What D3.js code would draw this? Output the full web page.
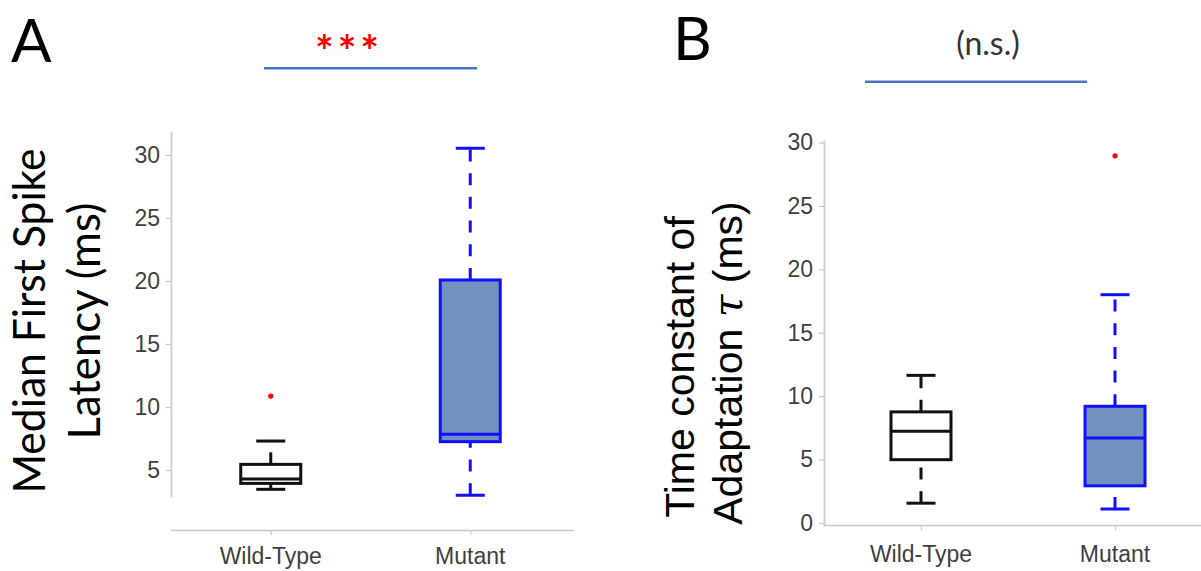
<!DOCTYPE html>
<html>
<head>
<meta charset="utf-8">
<script src="https://cdn.jsdelivr.net/npm/d3@7"></script>
<style>
  html, body { margin: 0; padding: 0; background: #fff; }
  svg { display: block; }
</style>
</head>
<body>
<svg id="chart" width="1201" height="571"></svg>
<script>
// ---------------- DATA ----------------
const categories = ["Wild-Type", "Mutant"];

// Panel A: Median first spike latency (ms)
const latencyLower   = [3.47, 3.0];
const latencyQ1      = [3.94, 7.25];
const latencyMedian  = [4.29, 7.83];
const latencyQ3      = [5.45, 20.08];
const latencyUpper   = [7.3, 30.53];
const latencyOutliers = [[10.87], []];
const latencyTicks   = [5, 10, 15, 20, 25, 30];

// Panel B: Time constant of adaptation tau (ms)
const tauLower   = [1.56, 1.1];
const tauQ1      = [4.99, 2.93];
const tauMedian  = [7.23, 6.7];
const tauQ3      = [8.76, 9.2];
const tauUpper   = [11.64, 18.0];
const tauOutliers = [[], [28.95]];
const tauTicks   = [0, 5, 10, 15, 20, 25, 30];

// ---------------- STYLE ----------------
const boxStroke = ["#111111", "#1010ff"];
const boxFill   = ["#ffffff", "#7191be"];
const svg = d3.select("#chart");
svg.append("rect").attr("width", 1201).attr("height", 571).attr("fill", "#fff");

function drawPanel(cfg) {
  const g = svg.append("g");
  const y = d3.scaleLinear().domain(cfg.yDomain).range(cfg.yRange);
  const x = d3.scalePoint().domain(categories).range(cfg.xRange).padding(0.5);

  // y axis
  const ya = g.append("g").attr("transform", `translate(${cfg.xRange[0]},0)`)
    .call(d3.axisLeft(y).tickValues(cfg.ticks).tickSize(5).tickPadding(6).tickSizeOuter(0));
  ya.select(".domain").attr("stroke", "#d2d2d2").attr("stroke-width", 2);
  ya.selectAll(".tick line").attr("stroke", "#c8c8c8").attr("stroke-width", 1.2);
  ya.selectAll(".tick text").attr("fill", "#3f3f3f")
    .style("font-family", "'Liberation Sans', Arial, sans-serif").style("font-size", "23px");

  // x axis
  const xa = g.append("g").attr("transform", `translate(0,${cfg.xAxisY})`)
    .call(d3.axisBottom(x).tickSize(5).tickSizeOuter(0).tickFormat(""));
  xa.select(".domain").attr("stroke", "#c8c8c8").attr("stroke-width", 1.5)
    .attr("d", `M${cfg.xRange[0]},0.5H${cfg.xLineEnd}`);
  xa.selectAll(".tick line").attr("stroke", "#c8c8c8").attr("stroke-width", 1.2);
  g.selectAll(".catlab").data(categories).join("text")
    .attr("x", d => x(d)).attr("y", cfg.catY)
    .attr("text-anchor", "middle").attr("fill", "#3f3f3f")
    .style("font-family", "'Liberation Sans', Arial, sans-serif").style("font-size", "23px")
    .text(d => d);

  const bw = 60, cw = 29;
  categories.forEach((c, i) => {
    const cx = x(c);
    const col = boxStroke[i];
    // whiskers (dashed, drawn from low value upward)
    [[cfg.lower[i], cfg.q1[i]], [cfg.q3[i], cfg.upper[i]]].forEach(([a, b]) => {
      g.append("line").attr("x1", cx).attr("x2", cx).attr("y1", y(a)).attr("y2", y(b))
        .attr("stroke", col).attr("stroke-width", 3).attr("stroke-dasharray", "12,11.7");
    });
    // caps
    [cfg.lower[i], cfg.upper[i]].forEach(v => {
      g.append("line").attr("x1", cx - cw / 2).attr("x2", cx + cw / 2).attr("y1", y(v)).attr("y2", y(v))
        .attr("stroke", col).attr("stroke-width", 3);
    });
    // box
    g.append("rect").attr("x", cx - bw / 2).attr("width", bw)
      .attr("y", y(cfg.q3[i])).attr("height", y(cfg.q1[i]) - y(cfg.q3[i]))
      .attr("fill", boxFill[i]).attr("stroke", col).attr("stroke-width", 3);
    // median
    g.append("line").attr("x1", cx - bw / 2).attr("x2", cx + bw / 2)
      .attr("y1", y(cfg.median[i])).attr("y2", y(cfg.median[i]))
      .attr("stroke", col).attr("stroke-width", 3);
    // outliers
    cfg.outliers[i].forEach(v => {
      g.append("circle").attr("cx", cx).attr("cy", y(v)).attr("r", 2.6).attr("fill", "#ff0000");
    });
  });
}

drawPanel({
  yDomain: [2.86, 31.9], yRange: [497, 131], xRange: [171, 570], xLineEnd: 574, xAxisY: 530,
  ticks: latencyTicks, catY: 564,
  lower: latencyLower, q1: latencyQ1, median: latencyMedian, q3: latencyQ3, upper: latencyUpper,
  outliers: latencyOutliers
});
drawPanel({
  yDomain: [-0.24, 30.2], yRange: [526, 140], xRange: [824, 1212], xLineEnd: 1201, xAxisY: 525,
  ticks: tauTicks, catY: 562,
  lower: tauLower, q1: tauQ1, median: tauMedian, q3: tauQ3, upper: tauUpper,
  outliers: tauOutliers
});

// ---------------- TITLES / ANNOTATIONS ----------------
const calib = "Lato, 'Open Sans', sans-serif";
// panel letters
svg.append("text").attr("x", 11).attr("y", 62).text("A")
  .style("font-family", calib).style("font-size", "60px").attr("fill", "#000");
svg.append("text").attr("x", 673).attr("y", 60).text("B")
  .style("font-family", calib).style("font-size", "60px").attr("fill", "#000");

// significance
svg.append("text").attr("x", 349).attr("y", 67).attr("text-anchor", "middle").text("***")
  .style("font-family", calib).style("font-size", "44px").style("font-weight", "bold")
  .style("letter-spacing", "4px").attr("fill", "#ff0000");
svg.append("line").attr("x1", 264).attr("x2", 477).attr("y1", 68.3).attr("y2", 68.3)
  .attr("stroke", "#4472c4").attr("stroke-width", 2.5);
svg.append("text").attr("x", 988).attr("y", 55).attr("text-anchor", "middle").text("(n.s.)")
  .style("font-family", calib).style("font-size", "32px").attr("fill", "#333");
svg.append("line").attr("x1", 865).attr("x2", 1087).attr("y1", 81.7).attr("y2", 81.7)
  .attr("stroke", "#4472c4").attr("stroke-width", 2.5);

// y-axis titles
const ta = svg.append("g").attr("transform", "translate(0,321) rotate(-90)");
ta.append("text").attr("x", 0).attr("y", 45).attr("text-anchor", "middle")
  .attr("textLength", 345).attr("lengthAdjust", "spacingAndGlyphs")
  .style("font-family", calib).style("font-size", "45px").attr("fill", "#000")
  .text("Median First Spike");
ta.append("text").attr("x", 0).attr("y", 100).attr("text-anchor", "middle")
  .attr("textLength", 237).attr("lengthAdjust", "spacingAndGlyphs")
  .style("font-family", calib).style("font-size", "45px").attr("fill", "#000")
  .text("Latency (ms)");

const tb = svg.append("g").attr("transform", "translate(0,365) rotate(-90)");
tb.append("text").attr("x", -2).attr("y", 694).attr("text-anchor", "middle")
  .style("font-family", "'Liberation Sans', Arial, sans-serif").style("font-size", "41px").attr("fill", "#000")
  .text("Time constant of");
const t2 = tb.append("text").attr("x", 2).attr("y", 742).attr("text-anchor", "middle")
  .style("font-family", "'Liberation Sans', Arial, sans-serif").style("font-size", "41px").attr("fill", "#000");
t2.append("tspan").text("Adaptation ");
t2.append("tspan").style("font-family", "'DejaVu Serif', serif").style("font-style", "italic").text("τ");
t2.append("tspan").text(" (ms)");
</script>
</body>
</html>
